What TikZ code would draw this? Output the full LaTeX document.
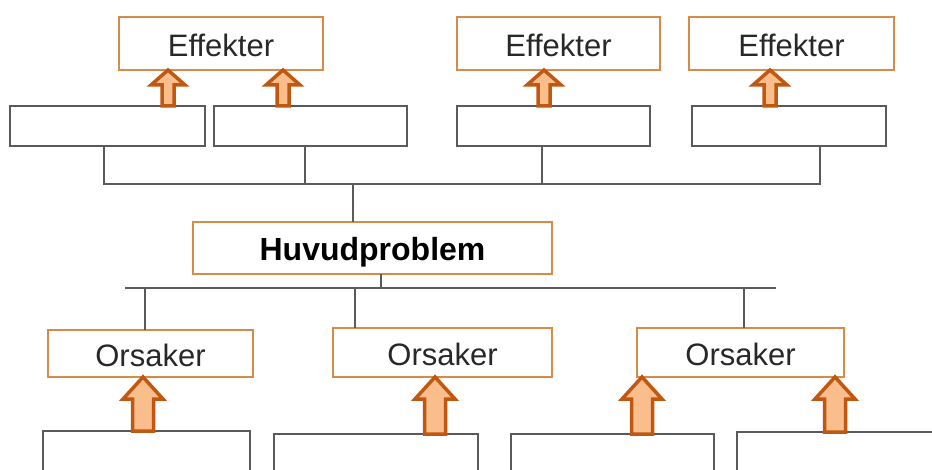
\documentclass[tikz,border=0pt]{standalone}
\usepackage{fontspec}
\setmainfont{Liberation Sans}
\usetikzlibrary{calc}
\definecolor{oborder}{RGB}{214,140,72}
\definecolor{gline}{RGB}{90,90,90}
\definecolor{arrline}{RGB}{192,88,18}
\definecolor{arrfill}{RGB}{250,190,140}
\definecolor{txt}{RGB}{40,40,40}
\tikzset{
  obox/.style={draw=oborder, line width=1.6pt, fill=white, inner sep=0pt, outer sep=0pt,
    text=txt, font=\fontsize{31}{36}\selectfont, text height=26pt, text depth=0pt},
  gbox/.style={draw=gline, line width=1.5pt, fill=white, inner sep=0pt, outer sep=0pt},
  conn/.style={draw=gline, line width=1.4pt},
  blockarrow/.style={draw=arrline, fill=arrfill, line width=3.5pt, line join=miter}
}
\newcommand\blkarr[6]{%
  \path[blockarrow] let \p1=(#2.south), \p2=(#3.north) in
   ({#1pt-#6pt/2},\y2) -- ({#1pt-#6pt/2},{\y1-#5pt}) -- ({#1pt-#4pt/2},{\y1-#5pt})
   -- (#1pt,\y1) -- ({#1pt+#4pt/2},{\y1-#5pt}) -- ({#1pt+#6pt/2},{\y1-#5pt})
   -- ({#1pt+#6pt/2},\y2) -- cycle;}
\begin{document}
\begin{tikzpicture}[x=1pt,y=-1pt]
\useasboundingbox (0,0) rectangle (932,470);
\clip (0,0) rectangle (932,470);
% top effect boxes
\node[obox, minimum width=204, minimum height=53] (E1) at (221,43.5) {Effekter};
\node[obox, minimum width=203, minimum height=53] (E2) at (558.5,43.5) {Effekter};
\node[obox, minimum width=205, minimum height=53] (E3) at (791.5,43.5) {Effekter};
% second row
\node[gbox, minimum width=195, minimum height=40] (B1) at (107.5,126) {};
\node[gbox, minimum width=193, minimum height=40] (B2) at (310.5,126) {};
\node[gbox, minimum width=193, minimum height=40] (B3) at (553.5,126) {};
\node[gbox, minimum width=194, minimum height=40] (B4) at (789,126) {};
% main problem
\node[obox, minimum width=359, minimum height=52, text=black, font=\fontsize{32}{36}\selectfont\bfseries] (H) at (372.5,248) {Huvudproblem};
% causes
\node[obox, minimum width=205, minimum height=47] (O1) at (150.5,353.5) {Orsaker};
\node[obox, minimum width=219, minimum height=49] (O2) at (442.5,352.5) {Orsaker};
\node[obox, minimum width=207, minimum height=49] (O3) at (740.5,352.5) {Orsaker};
% bottom boxes
\node[gbox, minimum width=207, minimum height=60] (C1) at (146.5,461) {};
\node[gbox, minimum width=204, minimum height=60] (C2) at (376,464) {};
\node[gbox, minimum width=203, minimum height=60] (C3) at (612.5,464) {};
\node[gbox, minimum width=230, minimum height=60] (C4) at (852,462) {};
% upper connectors
\coordinate (bar) at (0,184);
\draw[conn] ([xshift=-3.5pt]B1.south) |- (bar -| 820,0) -- ([xshift=31pt]B4.south);
\draw[conn] ([xshift=-5.5pt]B2.south) -- (bar -| 305,0);
\draw[conn] ([xshift=-11.5pt]B3.south) -- (bar -| 542,0);
\draw[conn] (bar -| 353,0) -- ([xshift=-19.5pt]H.north);
% lower connectors
\coordinate (lbar) at (0,288);
\coordinate (lbarL) at (125,288);
\coordinate (lbarR) at (776,288);
\draw[conn] (lbarL) -- (lbarR);
\draw[conn] ([xshift=8.5pt]H.south) -- (lbar -| 381,0);
\draw[conn] (lbar -| 145,0) -- ([xshift=-5.5pt]O1.north);
\draw[conn] (lbar -| 355,0) -- ([xshift=-87.5pt]O2.north);
\draw[conn] (lbar -| 744,0) -- ([xshift=3.5pt]O3.north);
% block arrows (x, tip node, base node, head width, head length, shaft width)
\blkarr{168}{E1}{B1}{34}{15}{12}
\blkarr{283}{E1}{B2}{34}{15}{12}
\blkarr{544}{E2}{B3}{34}{15}{12}
\blkarr{770}{E3}{B4}{34}{15}{12}
\blkarr{143}{O1}{C1}{40}{22}{21}
\blkarr{435}{O2}{C2}{40}{22}{21}
\blkarr{642}{O3}{C3}{40}{22}{21}
\blkarr{835}{O3}{C4}{40}{22}{21}
\end{tikzpicture}
\end{document}
